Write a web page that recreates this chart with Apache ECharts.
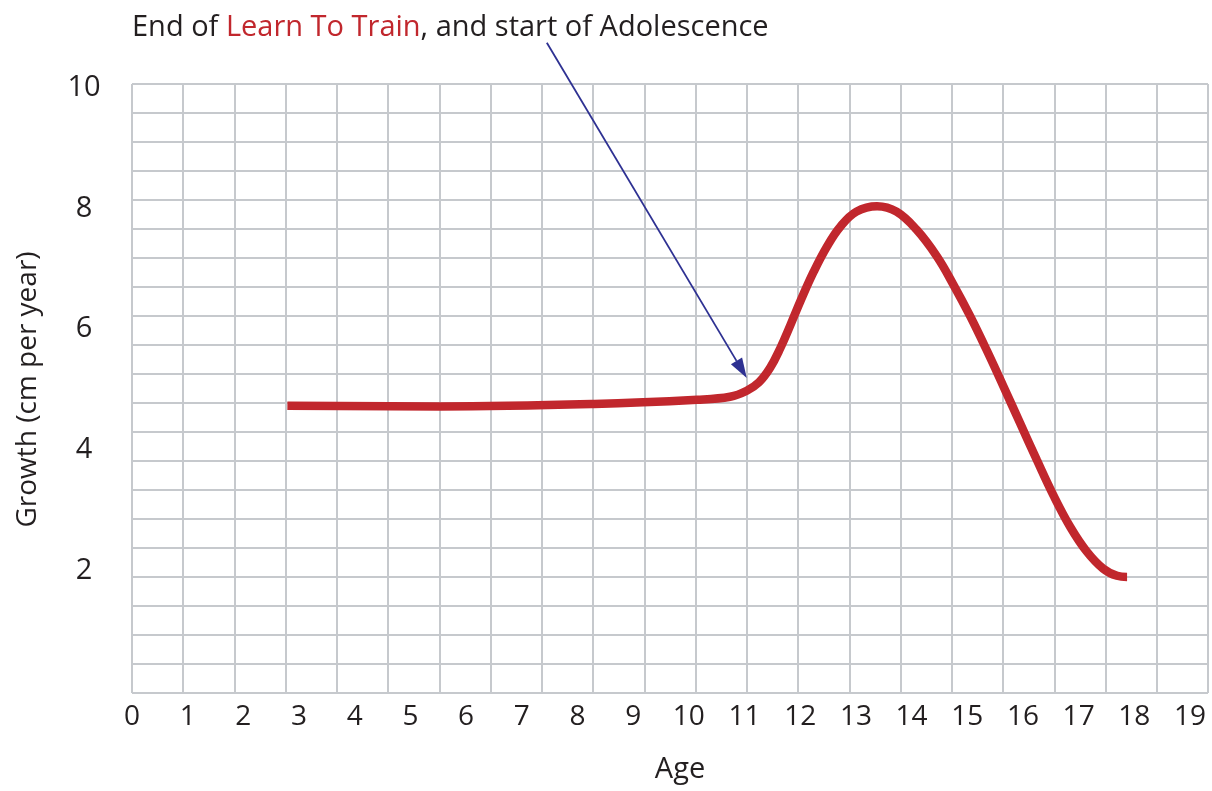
<!DOCTYPE html>
<html>
<head>
<meta charset="utf-8">
<script src="https://cdn.jsdelivr.net/npm/echarts@6/dist/echarts.min.js"></script>
<style>
  html, body { margin: 0; padding: 0; background: #fff; }
  #chart { width: 1212px; height: 791px; }
</style>
</head>
<body>
<div id="chart"></div>
<script>
// growth curve (age in years, cm per year)
const ages = [2.79, 5.53, 8.30, 10.15, 10.74, 11.04, 11.26, 11.46, 11.64, 11.82, 12.02, 12.24, 12.48, 12.72, 13.01, 13.38, 13.73, 14.09, 14.46, 14.75, 15.05, 15.35, 15.65, 15.95, 16.25, 16.55, 16.85, 17.14, 17.44, 17.69, 17.87];
const growth = [4.73, 4.72, 4.76, 4.83, 4.88, 4.98, 5.12, 5.36, 5.68, 6.06, 6.50, 6.95, 7.37, 7.70, 7.95, 8.04, 7.95, 7.65, 7.20, 6.74, 6.22, 5.65, 5.05, 4.44, 3.83, 3.24, 2.72, 2.32, 2.03, 1.91, 1.89];

const xTicks = [0, 19];   // labelled age range
const yTicks = [0, 10];   // labelled growth range
const gridCols = 21;
const gridRows = 21;

// annotation arrow, in data units: from under the title to age 11 on the curve
const arrowFrom = [7.45, 10.75];
const arrowTo = [11.04, 5.19];

const FONT = "'Open Sans', sans-serif";
const INK = '#231f20';
const RED = '#c1272d';
const GRID = '#c6c9cd';

const chart = echarts.init(document.getElementById('chart'));

const option = {
  animation: false,
  title: {
    left: 127,
    top: 8,
    text: '{a|End of }{b|Learn To Train}{a|, and start of Adolescence}',
    textStyle: {
      fontWeight: 'normal',
      rich: {
        a: { fontFamily: FONT, fontSize: 29, fontWeight: 'normal', color: INK },
        b: { fontFamily: FONT, fontSize: 29, fontWeight: 'normal', color: RED }
      }
    }
  },
  grid: [
    { left: 132, top: 84, width: 1076, height: 609, outerBoundsMode: 'none' },
    { left: 132, top: 88, width: 1058, height: 603, outerBoundsMode: 'none' }
  ],
  xAxis: [
    {
      gridIndex: 0, type: 'value', min: 0, max: gridCols, interval: 1,
      axisLine: { show: false }, axisTick: { show: false }, axisLabel: { show: false },
      splitLine: { show: true, lineStyle: { color: GRID, width: 2 } }
    },
    {
      gridIndex: 1, type: 'value', min: xTicks[0], max: xTicks[1], interval: 1,
      axisLine: { show: false }, axisTick: { show: false }, splitLine: { show: false },
      axisLabel: { fontFamily: FONT, fontSize: 28, color: INK, margin: 12 },
      name: 'Age', nameLocation: 'middle', nameGap: 64,
      nameTextStyle: { fontFamily: FONT, fontSize: 29, color: INK, padding: [0, 0, 0, 38] }
    }
  ],
  yAxis: [
    {
      gridIndex: 0, type: 'value', min: 0, max: gridRows, interval: 1,
      axisLine: { show: false }, axisTick: { show: false }, axisLabel: { show: false },
      splitLine: { show: true, lineStyle: { color: GRID, width: 2 } }
    },
    {
      gridIndex: 1, type: 'value', min: yTicks[0], max: yTicks[1], interval: 2,
      axisLine: { show: false }, axisTick: { show: false }, splitLine: { show: false },
      axisLabel: {
        fontFamily: FONT, fontSize: 29, color: INK, margin: 48, align: 'center',
        formatter: v => (v === 0 ? '' : v)
      },
      name: 'Growth (cm per year)', nameLocation: 'middle', nameGap: 90,
      nameTextStyle: { fontFamily: FONT, fontSize: 28, color: INK }
    }
  ],
  series: [
    {
      type: 'line',
      xAxisIndex: 1,
      yAxisIndex: 1,
      data: ages.map((a, i) => [a, growth[i]]),
      smooth: 0.4,
      showSymbol: false,
      lineStyle: { color: RED, width: 8.5, cap: 'butt' }
    }
  ]
};

chart.setOption(option);

// draw the annotation arrow once the axes exist
const p0 = chart.convertToPixel({ gridIndex: 1 }, arrowFrom);
const p1 = chart.convertToPixel({ gridIndex: 1 }, arrowTo);
const dx = p1[0] - p0[0], dy = p1[1] - p0[1];
const len = Math.sqrt(dx * dx + dy * dy);
const ux = dx / len, uy = dy / len;
const headLen = 20, headHalf = 6.5;
const bx = p1[0] - ux * headLen, by = p1[1] - uy * headLen;

chart.setOption({
  graphic: [
    {
      type: 'line', z: 100,
      shape: { x1: p0[0], y1: p0[1], x2: bx, y2: by },
      style: { stroke: '#2e3192', lineWidth: 1.8 }
    },
    {
      type: 'polygon', z: 100,
      shape: {
        points: [
          [p1[0], p1[1]],
          [bx - uy * headHalf, by + ux * headHalf],
          [bx + uy * headHalf, by - ux * headHalf]
        ]
      },
      style: { fill: '#2e3192' }
    }
  ]
});

window.addEventListener('resize', () => chart.resize());
</script>
</body>
</html>
